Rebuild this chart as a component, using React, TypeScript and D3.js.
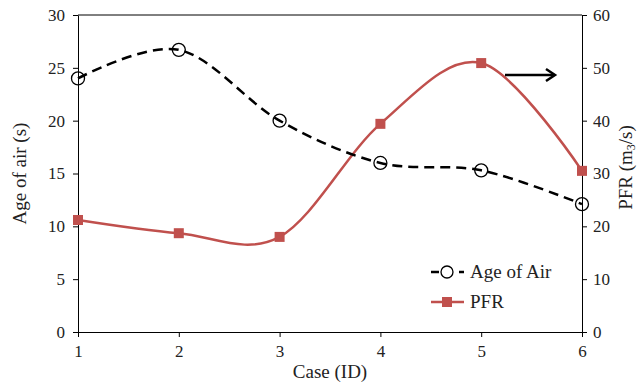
import React, { useEffect, useRef } from 'react';
import * as d3 from 'd3';

const cases = [1, 2, 3, 4, 5, 6];
const ageOfAir = [24, 26.7, 20, 16, 15.3, 12.1];
const pfr = [21.2, 18.7, 18.0, 39.4, 50.9, 30.5];
const leftTicks = [0, 5, 10, 15, 20, 25, 30];
const rightTicks = [0, 10, 20, 30, 40, 50, 60];

const W = 638;
const H = 382;
const FONT = '"Liberation Serif", "Times New Roman", serif';
const RED = '#C0504D';

export default function App() {
  const svgRef = useRef<SVGSVGElement>(null);

  useEffect(() => {
    if (!svgRef.current) return;
    const svg = d3.select(svgRef.current);
    svg.selectAll('*').remove();

    const left = 78, right = 582, top = 15, bottom = 332;
    const x = d3.scaleLinear().domain([1, 6]).range([left, right]);
    const yL = d3.scaleLinear().domain([0, 30]).range([bottom, top]);
    const yR = d3.scaleLinear().domain([0, 60]).range([bottom, top]);

    // frame: top line
    svg.append('line')
      .attr('x1', left).attr('x2', right).attr('y1', top).attr('y2', top)
      .attr('stroke', '#000').attr('stroke-width', 1);

    // left axis
    const gL = svg.append('g').attr('transform', `translate(${left},0)`)
      .call(d3.axisLeft(yL).tickValues(leftTicks).tickSize(5).tickPadding(8).tickSizeOuter(0));
    // right axis
    const gR = svg.append('g').attr('transform', `translate(${right},0)`)
      .call(d3.axisRight(yR).tickValues(rightTicks).tickSize(5).tickPadding(6).tickSizeOuter(0));
    // bottom axis
    const gB = svg.append('g').attr('transform', `translate(0,${bottom})`)
      .call(d3.axisBottom(x).tickValues(cases).tickFormat(d3.format('d')).tickSize(5).tickPadding(8).tickSizeOuter(0));

    [gL, gR, gB].forEach(g => {
      g.selectAll('path').attr('stroke', '#000').attr('stroke-width', 1);
      g.selectAll('line').attr('stroke', '#000');
      g.selectAll('text').attr('font-family', FONT).attr('font-size', 17).attr('fill', '#222');
    });

    const curve = d3.curveCardinal.tension(0);

    // PFR line
    const linePfr = d3.line<number>()
      .x((_, i) => x(cases[i]))
      .y(d => yR(d))
      .curve(curve);
    svg.append('path')
      .datum(pfr)
      .attr('fill', 'none')
      .attr('stroke', RED)
      .attr('stroke-width', 2.5)
      .attr('d', linePfr);
    svg.selectAll('rect.pfr')
      .data(pfr)
      .join('rect')
      .attr('class', 'pfr')
      .attr('x', (_, i) => x(cases[i]) - 5)
      .attr('y', d => yR(d) - 5)
      .attr('width', 10)
      .attr('height', 10)
      .attr('fill', RED);

    // Age of air line
    const lineAge = d3.line<number>()
      .x((_, i) => x(cases[i]))
      .y(d => yL(d))
      .curve(curve);
    svg.append('path')
      .datum(ageOfAir)
      .attr('fill', 'none')
      .attr('stroke', '#000')
      .attr('stroke-width', 2.5)
      .attr('stroke-dasharray', '10,6')
      .attr('d', lineAge);
    svg.selectAll('circle.age')
      .data(ageOfAir)
      .join('circle')
      .attr('class', 'age')
      .attr('cx', (_, i) => x(cases[i]))
      .attr('cy', d => yL(d))
      .attr('r', 6.5)
      .attr('fill', 'none')
      .attr('stroke', '#000')
      .attr('stroke-width', 1.3);

    // arrow pointing to right axis
    const ay = 75;
    svg.append('line')
      .attr('x1', 505).attr('x2', 554).attr('y1', ay).attr('y2', ay)
      .attr('stroke', '#000').attr('stroke-width', 2.5);
    svg.append('path')
      .attr('d', `M${546},${ay - 6} L${555},${ay} L${546},${ay + 6}`)
      .attr('fill', 'none').attr('stroke', '#000').attr('stroke-width', 2.5);

    // legend
    const lx = 431, ly1 = 272, ly2 = 302;
    svg.append('line').attr('x1', lx).attr('x2', lx + 33).attr('y1', ly1).attr('y2', ly1)
      .attr('stroke', '#000').attr('stroke-width', 2.5).attr('stroke-dasharray', '8,6');
    svg.append('circle').attr('cx', lx + 16).attr('cy', ly1).attr('r', 6)
      .attr('fill', '#fff').attr('stroke', '#000').attr('stroke-width', 1.3);
    svg.append('text').attr('x', lx + 39).attr('y', ly1 + 6)
      .attr('font-family', FONT).attr('font-size', 19).attr('fill', '#222').text('Age of Air');
    svg.append('line').attr('x1', lx).attr('x2', lx + 33).attr('y1', ly2).attr('y2', ly2)
      .attr('stroke', RED).attr('stroke-width', 2.5);
    svg.append('rect').attr('x', lx + 11).attr('y', ly2 - 5).attr('width', 10).attr('height', 10)
      .attr('fill', RED);
    svg.append('text').attr('x', lx + 39).attr('y', ly2 + 6)
      .attr('font-family', FONT).attr('font-size', 19).attr('fill', '#222').text('PFR');

    // axis titles
    svg.append('text')
      .attr('transform', `translate(26,${(top + bottom) / 2}) rotate(-90)`)
      .attr('text-anchor', 'middle')
      .attr('font-family', FONT).attr('font-size', 19).attr('fill', '#222')
      .text('Age of air (s)');
    const rt = svg.append('text')
      .attr('transform', `translate(632,${(top + bottom) / 2 - 6}) rotate(-90)`)
      .attr('text-anchor', 'middle')
      .attr('font-family', FONT).attr('font-size', 19).attr('fill', '#222');
    rt.append('tspan').text('PFR (m');
    rt.append('tspan').attr('font-size', 12).attr('dy', 3).text('3');
    rt.append('tspan').attr('dy', -3).text('/s)');
    svg.append('text')
      .attr('x', 330).attr('y', 378)
      .attr('text-anchor', 'middle')
      .attr('font-family', FONT).attr('font-size', 19).attr('fill', '#222')
      .text('Case (ID)');
  }, []);

  return (
    <svg ref={svgRef} width={W} height={H} style={{ display: 'block', position: 'absolute', left: 0, top: 0, background: '#fff' }} />
  );
}
